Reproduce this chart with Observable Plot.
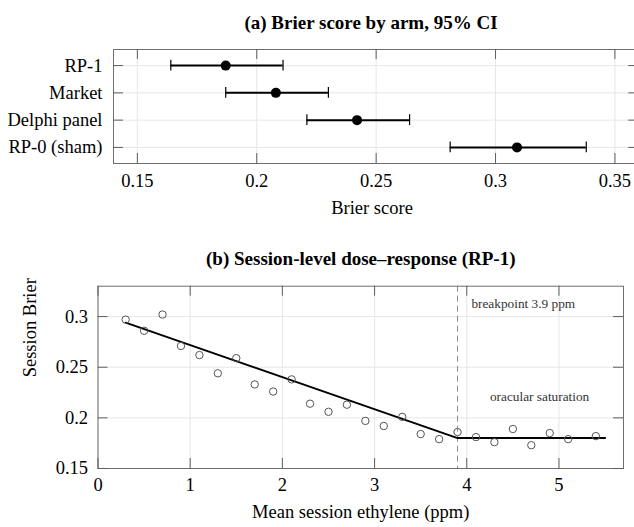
<!DOCTYPE html>
<html><head><meta charset="utf-8">
<script src="https://cdn.jsdelivr.net/npm/d3@7"></script>
<script src="https://cdn.jsdelivr.net/npm/@observablehq/plot@0.6"></script>
<style>
html,body{margin:0;padding:0;background:#fff;overflow:hidden}
#wrap{position:relative;width:634px;height:527px}
#a{position:absolute;left:0;top:0}
#b{position:absolute;left:0;top:228px}
</style></head><body><div id="wrap"><div id="a"></div><div id="b"></div></div>
<script>
// ---- Panel (a) data ----
const arms = ["RP-1", "Market", "Delphi panel", "RP-0 (sham)"];
const brier = [0.187, 0.208, 0.242, 0.309];
const ciLow = [0.164, 0.187, 0.221, 0.281];
const ciHigh = [0.211, 0.230, 0.264, 0.338];
const xTicksA = [0.15, 0.2, 0.25, 0.3, 0.35];
const titleA = "(a) Brier score by arm, 95% CI";
const xLabelA = "Brier score";

// ---- Panel (b) data ----
const ethylene = [0.3,0.5,0.7,0.9,1.1,1.3,1.5,1.7,1.9,2.1,2.3,2.5,2.7,2.9,3.1,3.3,3.5,3.7,3.9,4.1,4.3,4.5,4.7,4.9,5.1,5.4];
const sessionBrier = [0.297,0.286,0.302,0.271,0.262,0.244,0.259,0.233,0.226,0.238,0.214,0.206,0.213,0.197,0.192,0.201,0.184,0.179,0.186,0.181,0.176,0.189,0.173,0.185,0.179,0.182];
const fitX = [0.3, 3.9, 5.5];
const fitY = [0.294, 0.180, 0.180];
const breakpoint = 3.9;
const xTicksB = [0, 1, 2, 3, 4, 5];
const yTicksB = [0.15, 0.2, 0.25, 0.3];
const titleB = "(b) Session-level dose–response (RP-1)";
const xLabelB = "Mean session ethylene (ppm)";
const yLabelB = "Session Brier";
const noteBreak = {x: 4.05, y: 0.3125, text: "breakpoint 3.9 ppm"};
const noteSat = {x: 4.79, y: 0.2213, text: "oracular saturation"};

const FONT = "'Liberation Serif', 'Times New Roman', serif";
const FS = 18.5, TFS = 19;
const GRID = "#e6e6e6", FRAME = "#6e6e6e", TICK = "#5e5e5e";
const fmt = d3.format("~g");

// ---------- Panel (a) ----------
{
  const W = 634, H = 228, mL = 113, mR = 0, mT = 49, mB = 65;
  const xDom = [0.14, 0.3582];
  const yDom = [3.59, -0.59];
  const pxX = (W - mL - mR) / (xDom[1] - xDom[0]);
  const pxY = (H - mT - mB) / (yDom[0] - yDom[1]);
  const tl = 10;
  const idx = arms.map((_, i) => i);
  const rows = arms.map((arm, i) => ({arm, i, brier: brier[i], lo: ciLow[i], hi: ciHigh[i]}));
  const chart = Plot.plot({
    width: W, height: H, marginLeft: mL, marginRight: mR, marginTop: mT, marginBottom: mB,
    style: {fontFamily: FONT, fontSize: FS + "px", overflow: "hidden", background: "#fff", color: "#000"},
    x: {domain: xDom, label: null},
    y: {domain: yDom, label: null},
    marks: [
      Plot.ruleX(xTicksA, {stroke: GRID}),
      Plot.ruleY(idx, {stroke: GRID}),
      Plot.ruleX([xDom[0]], {stroke: FRAME}),
      Plot.ruleY([yDom[0], yDom[1]], {stroke: FRAME}),
      Plot.ruleX(xTicksA, {y1: yDom[0], y2: yDom[0] - tl / pxY, stroke: TICK}),
      Plot.ruleX(xTicksA, {y1: yDom[1], y2: yDom[1] + tl / pxY, stroke: TICK}),
      Plot.ruleY(idx, {x1: xDom[0], x2: xDom[0] + tl / pxX, stroke: TICK}),
      Plot.ruleY(idx, {x1: 0.36 - tl / pxX, x2: 0.36, stroke: TICK}),
      Plot.ruleY(rows, {x1: "lo", x2: "hi", y: "i", stroke: "#000", strokeWidth: 2}),
      Plot.ruleX(rows, {x: "lo", y1: d => d.i - 0.2, y2: d => d.i + 0.2, stroke: "#000", strokeWidth: 1.2}),
      Plot.ruleX(rows, {x: "hi", y1: d => d.i - 0.2, y2: d => d.i + 0.2, stroke: "#000", strokeWidth: 1.2}),
      Plot.dot(rows, {x: "brier", y: "i", r: 5, fill: "#000"}),
      Plot.axisX({ticks: xTicksA, tickSize: 0, tickPadding: 10, tickFormat: fmt, label: null, fill: "#000"}),
      Plot.axisY({ticks: idx, tickSize: 0, tickPadding: 11, tickFormat: i => arms[i], label: null, fill: "#000"}),
      Plot.text([titleA], {text: d => d, frameAnchor: "top", dy: -34, dx: -3, fontWeight: "bold", fontSize: TFS, fill: "#000"}),
      Plot.text([xLabelA], {text: d => d, frameAnchor: "bottom", dy: 50, dx: -2, fontSize: FS, fill: "#000"})
    ]
  });
  document.getElementById("a").appendChild(chart);
}

// ---------- Panel (b) ----------
{
  const W = 634, H = 299, mL = 97.5, mR = 11, mT = 57.7, mB = 59;
  const xDom = [0, 5.7];
  const yDom = [0.15, 0.33];
  const pxX = (W - mL - mR) / (xDom[1] - xDom[0]);
  const pxY = (H - mT - mB) / (yDom[1] - yDom[0]);
  const tl = 10;
  const sessions = ethylene.map((x, i) => ({x, y: sessionBrier[i]}));
  const fit = fitX.map((x, i) => ({x, y: fitY[i]}));
  const chart = Plot.plot({
    width: W, height: H, marginLeft: mL, marginRight: mR, marginTop: mT, marginBottom: mB,
    style: {fontFamily: FONT, fontSize: FS + "px", overflow: "hidden", background: "#fff", color: "#000"},
    x: {domain: xDom, label: null},
    y: {domain: yDom, label: null},
    marks: [
      Plot.ruleX(xTicksB, {stroke: GRID}),
      Plot.ruleY(yTicksB, {stroke: GRID}),
      Plot.frame({stroke: FRAME}),
      Plot.ruleX(xTicksB, {y1: yDom[0], y2: yDom[0] + tl / pxY, stroke: TICK}),
      Plot.ruleX(xTicksB, {y1: yDom[1], y2: yDom[1] - tl / pxY, stroke: TICK}),
      Plot.ruleY(yTicksB, {x1: xDom[0], x2: xDom[0] + tl / pxX, stroke: TICK}),
      Plot.ruleY(yTicksB, {x1: xDom[1] - tl / pxX, x2: xDom[1], stroke: TICK}),
      Plot.ruleX([breakpoint], {stroke: "#8a8a8a", strokeDasharray: "6,4"}),
      Plot.line(fit, {x: "x", y: "y", stroke: "#000", strokeWidth: 2}),
      Plot.dot(sessions, {x: "x", y: "y", r: 3.7, stroke: "#555", fill: "none", strokeWidth: 1}),
      Plot.text([noteBreak], {x: "x", y: "y", text: "text", textAnchor: "start", fontSize: 13.3, fill: "#333"}),
      Plot.text([noteSat], {x: "x", y: "y", text: "text", textAnchor: "middle", fontSize: 13.3, fill: "#333"}),
      Plot.axisX({ticks: xTicksB, tickSize: 0, tickPadding: 9, tickFormat: fmt, label: null, fill: "#000"}),
      Plot.axisY({ticks: yTicksB, tickSize: 0, tickPadding: 10, tickFormat: fmt, label: null, fill: "#000"}),
      Plot.text([titleB], {text: d => d, frameAnchor: "top", dy: -35, fontWeight: "bold", fontSize: TFS, fill: "#000"}),
      Plot.text([xLabelB], {text: d => d, frameAnchor: "bottom", dy: 49, fontSize: FS, fill: "#000"}),
      Plot.text([yLabelB], {text: d => d, frameAnchor: "left", dx: -68, rotate: -90, fontSize: FS, fill: "#000"})
    ]
  });
  document.getElementById("b").appendChild(chart);
}
</script></body></html>
